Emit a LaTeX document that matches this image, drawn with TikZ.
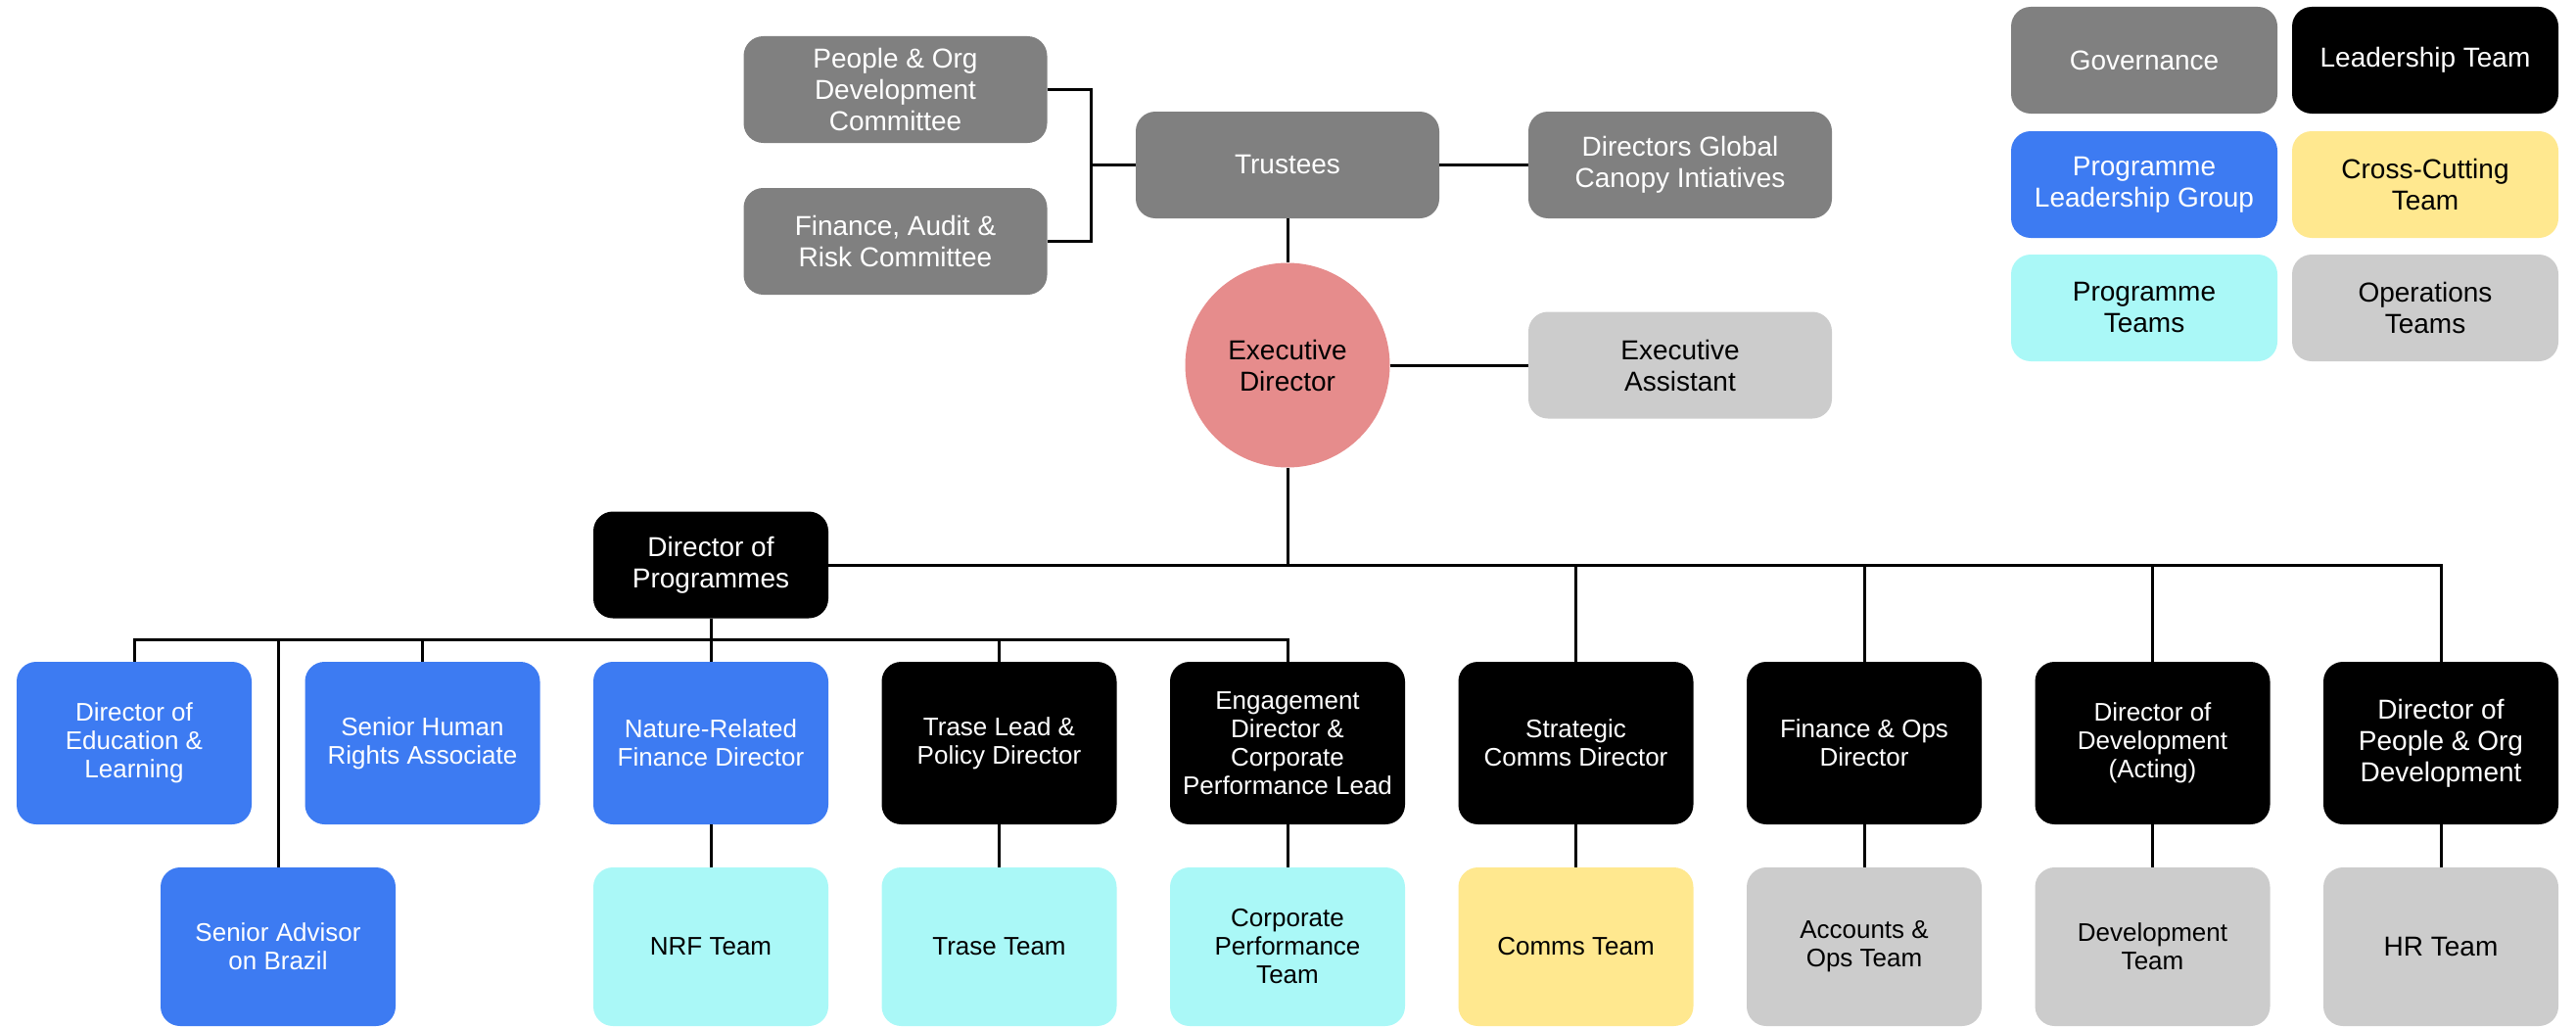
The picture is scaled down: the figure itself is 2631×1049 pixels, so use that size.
\documentclass[tikz,border=0pt]{standalone}
\usepackage{fontspec}
\setmainfont{Liberation Sans}
\usetikzlibrary{positioning}
\definecolor{gov}{RGB}{128,128,128}
\definecolor{prog}{RGB}{61,123,242}
\definecolor{cross}{RGB}{255,232,143}
\definecolor{pteam}{RGB}{170,248,247}
\definecolor{ops}{RGB}{204,204,204}
\definecolor{exec}{RGB}{230,140,140}

\tikzset{
  box/.style={rounded corners=20pt,align=center,inner sep=4pt},
  big/.style={font=\fontsize{28}{32}\selectfont},
  small/.style={font=\fontsize{26}{29}\selectfont},
  govbox/.style={box,big,fill=gov,text=white,minimum width=310pt,minimum height=109pt},
  keybox/.style={box,big,minimum width=272pt,minimum height=109pt},
  unit/.style={box,small,minimum width=240pt,minimum height=166pt},
  team/.style={box,small,minimum width=240pt,minimum height=162pt},
  link/.style={line width=3pt,black}
}

\begin{document}
\begin{tikzpicture}[x=1pt,y=-1pt]
    \useasboundingbox (0,0) rectangle (2631,1049);
    % governance
    \node[govbox] (podc) at (914.5,91.5) {People \& Org\\Development\\Committee};
    \node[govbox] (farc) at (914.5,246.5) {Finance, Audit \&\\Risk Committee};
    \node[govbox] (trustees) at (1315,168.5) {Trustees};
    \node[govbox] (global) at (1716,168.5) {Directors Global\\Canopy Intiatives};
    \node[govbox,fill=ops,text=black] (assist) at (1716,373) {Executive\\Assistant};
    \node[circle,big,fill=exec,minimum size=209pt,align=center,inner sep=0pt] (ed) at (1315,373) {Executive\\Director};
    \draw[link] (podc.east) -- ++(45,0) |- (farc.east);
    \draw[link] (trustees.west) -- ++(-46,0);
    \draw[link] (trustees) -- (global);
    \draw[link] (trustees) -- (ed);
    \draw[link] (ed) -- (assist);
    % legend
    \node[keybox,fill=gov,text=white] (kgov) at (2190,61.5) {Governance};
    \node[keybox,fill=black,text=white] (klead) at (2477,61.5) {Leadership Team};
    \node[keybox,fill=prog,text=white] (kprog) at (2190,188.5) {Programme\\Leadership Group};
    \node[keybox,fill=cross] (kcross) at (2477,188.5) {Cross-Cutting\\Team};
    \node[keybox,fill=pteam] (kpteam) at (2190,314.5) {Programme\\Teams};
    \node[keybox,fill=ops] (kops) at (2477,314.5) {Operations\\Teams};
    % directors
    \node[box,big,fill=black,text=white,minimum width=240pt,minimum height=109pt] (dop) at (726,577) {Director of\\Programmes};
    \node[unit,fill=prog,text=white] (edu) at (137,759) {Director of\\Education \&\\Learning};
    \node[unit,fill=prog,text=white] (rights) at (431.5,759) {Senior Human\\Rights Associate};
    \node[unit,fill=prog,text=white] (nrfd) at (726,759) {Nature-Related\\Finance Director};
    \node[unit,fill=black,text=white] (trase) at (1020.5,759) {Trase Lead \&\\Policy Director};
    \node[unit,fill=black,text=white] (engage) at (1315,759) {Engagement\\Director \&\\Corporate\\Performance Lead};
    \node[unit,fill=black,text=white] (comms) at (1609.5,759) {Strategic\\Comms Director};
    \node[unit,fill=black,text=white] (finops) at (1904,759) {Finance \& Ops\\Director};
    \node[unit,fill=black,text=white] (dev) at (2198.5,759) {Director of\\Development\\(Acting)};
    \node[unit,big,fill=black,text=white] (people) at (2493,759) {Director of\\People \& Org\\Development};
    % teams
    \node[team,fill=prog,text=white] (brazil) at (284,967) {Senior Advisor\\on Brazil};
    \node[team,fill=pteam] (nrft) at (726,967) {NRF Team};
    \node[team,fill=pteam] (traset) at (1020.5,967) {Trase Team};
    \node[team,fill=pteam] (corpt) at (1315,967) {Corporate\\Performance\\Team};
    \node[team,fill=cross] (commst) at (1609.5,967) {Comms Team};
    \node[team,fill=ops] (acct) at (1904,967) {Accounts \&\\Ops Team};
    \node[team,fill=ops] (devt) at (2198.5,967) {Development\\Team};
    \node[team,big,fill=ops] (hrt) at (2493,967) {HR Team};
    % top bus
    \coordinate (busA) at (1315,577);
    \draw[link] (ed) -- (busA);
    \draw[link] (dop.east) -| (people.north);
    \foreach \n in {comms,finops,dev}
        \draw[link] (\n.north) -- (\n.north |- busA);
    % programme bus
    \draw[link] (edu.north) -- ++(0,-22) -| (engage.north);
    \coordinate (busB) at (726,654);
    \foreach \n in {rights,nrfd,trase,brazil}
        \draw[link] (\n.north) -- (\n.north |- busB);
    \draw[link] (dop) -- (busB);
    % teams
    \draw[link] (nrfd) -- (nrft);
    \draw[link] (trase) -- (traset);
    \draw[link] (engage) -- (corpt);
    \draw[link] (comms) -- (commst);
    \draw[link] (finops) -- (acct);
    \draw[link] (dev) -- (devt);
    \draw[link] (people) -- (hrt);
\end{tikzpicture}
\end{document}
